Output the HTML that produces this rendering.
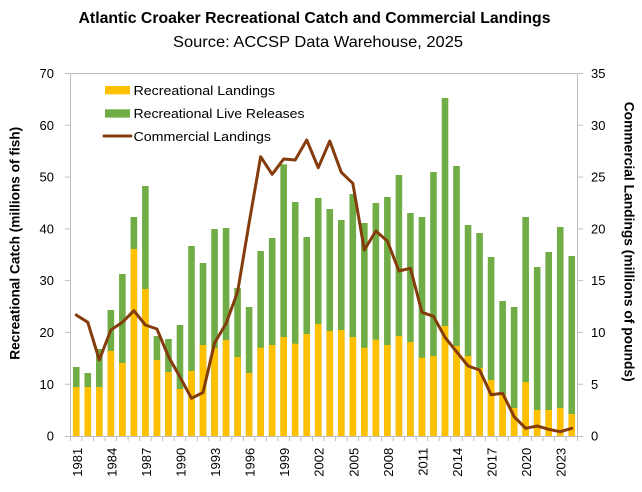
<!DOCTYPE html>
<html>
<head>
<meta charset="utf-8">
<style>
html,body{margin:0;padding:0;background:#fff;}
svg{display:block;}
text{font-family:"Liberation Sans",Arial,sans-serif;fill:#000;}
</style>
</head>
<body>
<svg width="642" height="492" viewBox="0 0 642 492" xmlns="http://www.w3.org/2000/svg">
<rect x="0" y="0" width="642" height="492" fill="#fff"/>

<!-- Titles -->
<text x="314.5" y="23" font-size="15.5" font-weight="bold" text-anchor="middle" textLength="472" lengthAdjust="spacingAndGlyphs">Atlantic Croaker Recreational Catch and Commercial Landings</text>
<text x="318" y="47" font-size="16" text-anchor="middle" textLength="290" lengthAdjust="spacingAndGlyphs">Source: ACCSP Data Warehouse, 2025</text>

<!-- Bars: green (total) then yellow (landings) -->
<g fill="#70AD47">
<rect x="72.96" y="367" width="6.6" height="69"/>
<rect x="84.48" y="373" width="6.6" height="63"/>
<rect x="96.01" y="349" width="6.6" height="87"/>
<rect x="107.53" y="310" width="6.6" height="126"/>
<rect x="119.05" y="274" width="6.6" height="162"/>
<rect x="130.58" y="217" width="6.6" height="219"/>
<rect x="142.10" y="186" width="6.6" height="250"/>
<rect x="153.62" y="336" width="6.6" height="100"/>
<rect x="165.14" y="339" width="6.6" height="97"/>
<rect x="176.67" y="325" width="6.6" height="111"/>
<rect x="188.19" y="246" width="6.6" height="190"/>
<rect x="199.71" y="263" width="6.6" height="173"/>
<rect x="211.24" y="229" width="6.6" height="207"/>
<rect x="222.76" y="228" width="6.6" height="208"/>
<rect x="234.28" y="288" width="6.6" height="148"/>
<rect x="245.80" y="307" width="6.6" height="129"/>
<rect x="257.33" y="251" width="6.6" height="185"/>
<rect x="268.85" y="238" width="6.6" height="198"/>
<rect x="280.37" y="164.3" width="6.6" height="271.7"/>
<rect x="291.90" y="202" width="6.6" height="234"/>
<rect x="303.42" y="237" width="6.6" height="199"/>
<rect x="314.94" y="198" width="6.6" height="238"/>
<rect x="326.47" y="209" width="6.6" height="227"/>
<rect x="337.99" y="220" width="6.6" height="216"/>
<rect x="349.51" y="194" width="6.6" height="242"/>
<rect x="361.03" y="223" width="6.6" height="213"/>
<rect x="372.56" y="203" width="6.6" height="233"/>
<rect x="384.08" y="197" width="6.6" height="239"/>
<rect x="395.60" y="175" width="6.6" height="261"/>
<rect x="407.13" y="213" width="6.6" height="223"/>
<rect x="418.65" y="217" width="6.6" height="219"/>
<rect x="430.17" y="172" width="6.6" height="264"/>
<rect x="441.70" y="98" width="6.6" height="338"/>
<rect x="453.22" y="166" width="6.6" height="270"/>
<rect x="464.74" y="225" width="6.6" height="211"/>
<rect x="476.27" y="233" width="6.6" height="203"/>
<rect x="487.79" y="257" width="6.6" height="179"/>
<rect x="499.31" y="301" width="6.6" height="135"/>
<rect x="510.83" y="307" width="6.6" height="129"/>
<rect x="522.36" y="217" width="6.6" height="219"/>
<rect x="533.88" y="267" width="6.6" height="169"/>
<rect x="545.40" y="252" width="6.6" height="184"/>
<rect x="556.93" y="227" width="6.6" height="209"/>
<rect x="568.45" y="256" width="6.6" height="180"/>
</g>
<g fill="#FFC000">
<rect x="72.96" y="387" width="6.6" height="49"/>
<rect x="84.48" y="387" width="6.6" height="49"/>
<rect x="96.01" y="387" width="6.6" height="49"/>
<rect x="107.53" y="351" width="6.6" height="85"/>
<rect x="119.05" y="363" width="6.6" height="73"/>
<rect x="130.58" y="249" width="6.6" height="187"/>
<rect x="142.10" y="289" width="6.6" height="147"/>
<rect x="153.62" y="360" width="6.6" height="76"/>
<rect x="165.14" y="372" width="6.6" height="64"/>
<rect x="176.67" y="389" width="6.6" height="47"/>
<rect x="188.19" y="371" width="6.6" height="65"/>
<rect x="199.71" y="345" width="6.6" height="91"/>
<rect x="211.24" y="348" width="6.6" height="88"/>
<rect x="222.76" y="340" width="6.6" height="96"/>
<rect x="234.28" y="357" width="6.6" height="79"/>
<rect x="245.80" y="373" width="6.6" height="63"/>
<rect x="257.33" y="347.7" width="6.6" height="88.3"/>
<rect x="268.85" y="345" width="6.6" height="91"/>
<rect x="280.37" y="337" width="6.6" height="99"/>
<rect x="291.90" y="343.7" width="6.6" height="92.3"/>
<rect x="303.42" y="334" width="6.6" height="102"/>
<rect x="314.94" y="324" width="6.6" height="112"/>
<rect x="326.47" y="331" width="6.6" height="105"/>
<rect x="337.99" y="330" width="6.6" height="106"/>
<rect x="349.51" y="337" width="6.6" height="99"/>
<rect x="361.03" y="347.7" width="6.6" height="88.3"/>
<rect x="372.56" y="339.7" width="6.6" height="96.3"/>
<rect x="384.08" y="345" width="6.6" height="91"/>
<rect x="395.60" y="336" width="6.6" height="100"/>
<rect x="407.13" y="342" width="6.6" height="94"/>
<rect x="418.65" y="357.7" width="6.6" height="78.3"/>
<rect x="430.17" y="356" width="6.6" height="80"/>
<rect x="441.70" y="326" width="6.6" height="110"/>
<rect x="453.22" y="346" width="6.6" height="90"/>
<rect x="464.74" y="356" width="6.6" height="80"/>
<rect x="476.27" y="368" width="6.6" height="68"/>
<rect x="487.79" y="380" width="6.6" height="56"/>
<rect x="499.31" y="394.5" width="6.6" height="41.5"/>
<rect x="510.83" y="408" width="6.6" height="28"/>
<rect x="522.36" y="382" width="6.6" height="54"/>
<rect x="533.88" y="410" width="6.6" height="26"/>
<rect x="545.40" y="410" width="6.6" height="26"/>
<rect x="556.93" y="408" width="6.6" height="28"/>
<rect x="568.45" y="414" width="6.6" height="22"/>
</g>

<!-- Axes / border -->
<g stroke="#BFBFBF" stroke-width="1" fill="none">
<path d="M70.5 73.5 H577.5 M70.5 73.5 V436.5 M577.5 73.5 V436.5 M70.5 436.5 H577.5"/>
<path d="M65 73.5 H70.5 M65 125.3 H70.5 M65 177.1 H70.5 M65 228.9 H70.5 M65 280.6 H70.5 M65 332.4 H70.5 M65 384.2 H70.5 M65 436.5 H70.5"/>
<path d="M577.5 73.5 H583 M577.5 125.3 H583 M577.5 177.1 H583 M577.5 228.9 H583 M577.5 280.6 H583 M577.5 332.4 H583 M577.5 384.2 H583 M577.5 436.5 H583"/>
<path d="M70.5 436 V441 M82.02 436 V441 M93.55 436 V441 M105.07 436 V441 M116.59 436 V441 M128.11 436 V441 M139.64 436 V441 M151.16 436 V441 M162.68 436 V441 M174.20 436 V441 M185.73 436 V441 M197.25 436 V441 M208.77 436 V441 M220.30 436 V441 M231.82 436 V441 M243.34 436 V441 M254.86 436 V441 M266.39 436 V441 M277.91 436 V441 M289.43 436 V441 M300.95 436 V441 M312.48 436 V441 M324.00 436 V441 M335.52 436 V441 M347.05 436 V441 M358.57 436 V441 M370.09 436 V441 M381.61 436 V441 M393.14 436 V441 M404.66 436 V441 M416.18 436 V441 M427.70 436 V441 M439.23 436 V441 M450.75 436 V441 M462.27 436 V441 M473.80 436 V441 M485.32 436 V441 M496.84 436 V441 M508.36 436 V441 M519.89 436 V441 M531.41 436 V441 M542.93 436 V441 M554.45 436 V441 M565.98 436 V441 M577.5 436 V441"/>
</g>

<!-- Commercial line -->
<polyline fill="none" stroke="#843C0C" stroke-width="3" stroke-linejoin="round" stroke-linecap="round"
points="76.26,315 87.78,322.3 99.31,360 110.83,330 122.35,322.3 133.88,310.7 145.40,325 156.92,329 168.44,356.5 179.97,377 191.49,398.3 203.01,392.5 214.54,343 226.06,323.5 237.58,292 249.10,223 260.63,156.7 272.15,174.3 283.67,159 295.20,160 306.72,140 318.24,167.7 329.77,141 341.29,172.3 352.81,183.3 364.33,250 375.86,231 387.38,241 398.90,271 410.43,268.3 421.95,312.3 433.47,316.3 445.00,337.3 456.52,351.7 468.04,366 479.57,370 491.09,394.7 502.61,393.3 514.13,416.7 525.66,428.3 537.18,426 548.70,429.3 560.23,431.7 571.75,428.3"/>

<!-- Left tick labels -->
<g font-size="13" text-anchor="end">
<text x="54" y="78.1">70</text>
<text x="54" y="129.9">60</text>
<text x="54" y="181.7">50</text>
<text x="54" y="233.5">40</text>
<text x="54" y="285.2">30</text>
<text x="54" y="337">20</text>
<text x="54" y="388.8">10</text>
<text x="54" y="440.6">0</text>
</g>
<!-- Right tick labels -->
<g font-size="13" text-anchor="start">
<text x="591" y="78.1">35</text>
<text x="591" y="129.9">30</text>
<text x="591" y="181.7">25</text>
<text x="591" y="233.5">20</text>
<text x="591" y="285.2">15</text>
<text x="591" y="337">10</text>
<text x="591" y="388.8">5</text>
<text x="591" y="440.6">0</text>
</g>

<!-- X tick labels -->
<g font-size="13" text-anchor="end">
<text transform="translate(81.76,447.8) rotate(-90)">1981</text>
<text transform="translate(116.33,447.8) rotate(-90)">1984</text>
<text transform="translate(150.90,447.8) rotate(-90)">1987</text>
<text transform="translate(185.47,447.8) rotate(-90)">1990</text>
<text transform="translate(220.04,447.8) rotate(-90)">1993</text>
<text transform="translate(254.60,447.8) rotate(-90)">1996</text>
<text transform="translate(289.17,447.8) rotate(-90)">1999</text>
<text transform="translate(323.74,447.8) rotate(-90)">2002</text>
<text transform="translate(358.31,447.8) rotate(-90)">2005</text>
<text transform="translate(392.88,447.8) rotate(-90)">2008</text>
<text transform="translate(427.45,447.8) rotate(-90)">2011</text>
<text transform="translate(462.02,447.8) rotate(-90)">2014</text>
<text transform="translate(496.59,447.8) rotate(-90)">2017</text>
<text transform="translate(531.16,447.8) rotate(-90)">2020</text>
<text transform="translate(565.73,447.8) rotate(-90)">2023</text>
</g>

<!-- Axis titles -->
<text transform="translate(19.5,243.3) rotate(-90)" font-size="13.7" font-weight="bold" text-anchor="middle" textLength="233" lengthAdjust="spacingAndGlyphs">Recreational Catch (millions of fish)</text>
<text transform="translate(624.5,241.7) rotate(90)" font-size="13.7" font-weight="bold" text-anchor="middle" textLength="280" lengthAdjust="spacingAndGlyphs">Commercial Landings (millions of pounds)</text>

<!-- Legend -->
<rect x="105" y="86" width="25" height="8.3" fill="#FFC000"/>
<rect x="105" y="109.3" width="25" height="8.3" fill="#70AD47"/>
<line x1="104" y1="136" x2="131" y2="136" stroke="#843C0C" stroke-width="3" stroke-linecap="round"/>
<g font-size="13">
<text x="133.5" y="94.9" textLength="141.5" lengthAdjust="spacingAndGlyphs">Recreational Landings</text>
<text x="133.5" y="118.2" textLength="171" lengthAdjust="spacingAndGlyphs">Recreational Live Releases</text>
<text x="133.5" y="141" textLength="137.5" lengthAdjust="spacingAndGlyphs">Commercial Landings</text>
</g>
</svg>
</body>
</html>
